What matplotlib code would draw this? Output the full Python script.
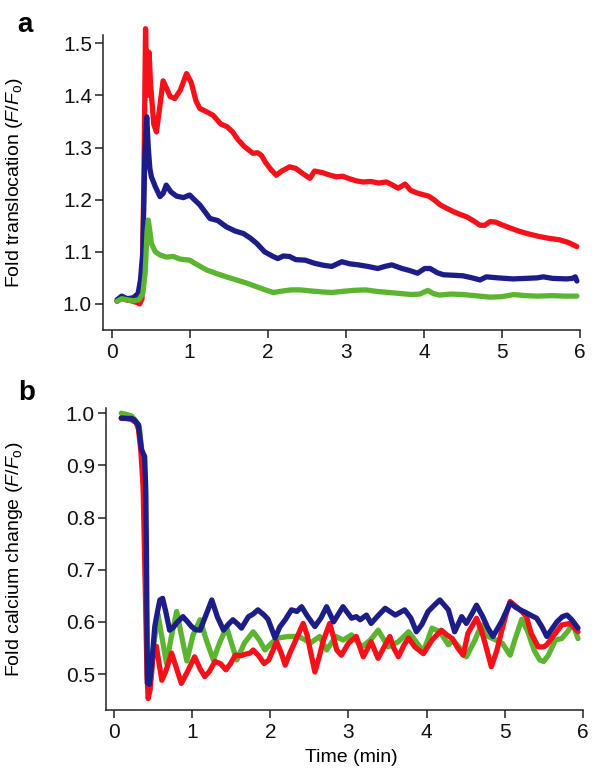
import matplotlib
matplotlib.use("Agg")
import matplotlib.pyplot as plt
import numpy as np

plt.rcParams['font.family'] = ['Liberation Sans', 'DejaVu Sans']
plt.rcParams['mathtext.fontset'] = 'custom'
plt.rcParams['mathtext.rm'] = 'Liberation Sans'
plt.rcParams['mathtext.it'] = 'Liberation Sans:italic'

RED = '#f5101a'
BLUE = '#1d1d88'
GREEN = '#5cb531'

# ---------------- Panel a: fold translocation ----------------
a_red_t = [0.07,0.12,0.18,0.25,0.32,0.36,0.39,0.415,0.435,0.455,0.48,0.50,0.54,0.575,0.61,0.66,0.70,0.75,0.81,0.88,0.96,1.02,1.08,1.13,1.20,1.30,1.40,1.48,1.55,1.62,1.70,1.76,1.81,1.87,1.92,1.97,2.04,2.11,2.18,2.28,2.36,2.45,2.54,2.60,2.70,2.80,2.88,2.96,3.05,3.14,3.22,3.32,3.42,3.52,3.60,3.67,3.76,3.83,3.91,3.98,4.06,4.13,4.21,4.30,4.38,4.46,4.55,4.63,4.72,4.78,4.85,4.92,4.98,5.10,5.23,5.35,5.49,5.60,5.74,5.85,5.96]
a_red_y = [1.005,1.012,1.008,1.006,1.003,1.0,1.01,1.25,1.528,1.40,1.483,1.42,1.345,1.33,1.37,1.428,1.415,1.398,1.394,1.41,1.442,1.425,1.39,1.375,1.37,1.362,1.345,1.34,1.33,1.315,1.302,1.295,1.289,1.29,1.285,1.272,1.258,1.247,1.255,1.263,1.26,1.25,1.241,1.255,1.252,1.247,1.244,1.245,1.24,1.236,1.234,1.235,1.232,1.234,1.228,1.222,1.23,1.218,1.213,1.21,1.207,1.2,1.19,1.183,1.177,1.172,1.167,1.16,1.151,1.151,1.158,1.157,1.153,1.146,1.139,1.134,1.129,1.126,1.123,1.118,1.11]

a_blue_t = [0.07,0.13,0.2,0.28,0.34,0.37,0.40,0.425,0.45,0.47,0.49,0.51,0.56,0.62,0.66,0.70,0.76,0.83,0.92,1.00,1.06,1.13,1.20,1.26,1.36,1.47,1.58,1.69,1.78,1.86,1.96,2.07,2.13,2.20,2.28,2.36,2.48,2.60,2.72,2.82,2.95,3.05,3.16,3.28,3.41,3.50,3.59,3.72,3.82,3.92,4.01,4.08,4.17,4.25,4.38,4.50,4.62,4.72,4.80,4.95,5.14,5.30,5.45,5.53,5.65,5.83,5.90,5.94,5.96]
a_blue_y = [1.008,1.015,1.01,1.012,1.02,1.046,1.10,1.28,1.359,1.30,1.26,1.244,1.225,1.206,1.212,1.228,1.215,1.207,1.204,1.209,1.20,1.19,1.176,1.164,1.160,1.148,1.14,1.135,1.126,1.116,1.10,1.091,1.087,1.092,1.091,1.085,1.084,1.078,1.074,1.072,1.081,1.077,1.075,1.072,1.068,1.072,1.075,1.068,1.064,1.059,1.068,1.068,1.060,1.056,1.055,1.054,1.05,1.046,1.052,1.05,1.048,1.049,1.05,1.052,1.049,1.048,1.049,1.052,1.044]

a_green_t = [0.07,0.13,0.2,0.28,0.35,0.40,0.43,0.455,0.47,0.49,0.51,0.56,0.62,0.70,0.79,0.88,1.00,1.10,1.22,1.35,1.47,1.60,1.73,1.84,1.95,2.07,2.20,2.30,2.41,2.55,2.70,2.82,2.95,3.10,3.25,3.40,3.55,3.70,3.84,3.95,4.05,4.12,4.20,4.35,4.50,4.65,4.85,5.00,5.15,5.30,5.45,5.65,5.80,5.96]
a_green_y = [1.005,1.01,1.008,1.006,1.008,1.02,1.06,1.14,1.161,1.14,1.116,1.10,1.094,1.09,1.091,1.086,1.084,1.075,1.065,1.058,1.052,1.046,1.04,1.034,1.028,1.022,1.025,1.027,1.027,1.025,1.023,1.022,1.024,1.026,1.027,1.024,1.022,1.02,1.018,1.019,1.026,1.02,1.017,1.019,1.018,1.016,1.013,1.014,1.018,1.016,1.015,1.016,1.015,1.015]

# ---------------- Panel b: fold calcium change ----------------
b_red_t = [0.09,0.15,0.22,0.28,0.31,0.34,0.37,0.40,0.42,0.435,0.46,0.50,0.54,0.575,0.61,0.66,0.735,0.80,0.86,0.94,1.03,1.10,1.16,1.22,1.29,1.36,1.43,1.49,1.55,1.62,1.68,1.74,1.78,1.85,1.92,1.98,2.08,2.14,2.19,2.25,2.31,2.37,2.42,2.47,2.51,2.57,2.62,2.68,2.76,2.81,2.85,2.91,3.00,3.10,3.15,3.19,3.29,3.38,3.45,3.53,3.58,3.64,3.71,3.77,3.85,3.96,4.07,4.19,4.26,4.33,4.40,4.47,4.53,4.64,4.70,4.75,4.83,4.90,4.96,5.02,5.07,5.15,5.22,5.28,5.34,5.43,5.50,5.54,5.65,5.73,5.84,5.94]
b_red_y = [0.99,0.99,0.988,0.982,0.97,0.93,0.86,0.65,0.50,0.453,0.47,0.54,0.553,0.52,0.488,0.505,0.54,0.51,0.482,0.505,0.533,0.51,0.495,0.505,0.524,0.52,0.508,0.52,0.536,0.535,0.538,0.54,0.546,0.535,0.52,0.527,0.562,0.54,0.517,0.54,0.56,0.58,0.597,0.575,0.546,0.504,0.53,0.565,0.597,0.57,0.546,0.536,0.559,0.572,0.55,0.533,0.562,0.53,0.55,0.572,0.55,0.533,0.555,0.569,0.552,0.539,0.565,0.584,0.575,0.568,0.55,0.536,0.578,0.607,0.585,0.559,0.514,0.545,0.581,0.615,0.639,0.629,0.62,0.61,0.578,0.552,0.552,0.556,0.578,0.594,0.597,0.581]

b_blue_t = [0.09,0.15,0.22,0.25,0.31,0.35,0.39,0.405,0.415,0.425,0.45,0.48,0.52,0.555,0.585,0.62,0.66,0.71,0.76,0.80,0.88,0.94,0.99,1.04,1.10,1.18,1.25,1.32,1.40,1.46,1.52,1.58,1.63,1.72,1.78,1.84,1.92,1.97,2.06,2.12,2.19,2.27,2.34,2.40,2.47,2.57,2.65,2.72,2.81,2.93,3.04,3.10,3.15,3.23,3.29,3.38,3.47,3.55,3.60,3.72,3.80,3.87,3.94,4.02,4.10,4.17,4.28,4.36,4.45,4.51,4.58,4.64,4.72,4.78,4.85,4.96,5.07,5.14,5.20,5.27,5.33,5.41,5.48,5.54,5.60,5.67,5.74,5.80,5.86,5.94]
b_blue_y = [0.991,0.99,0.99,0.988,0.978,0.93,0.917,0.85,0.70,0.483,0.48,0.52,0.591,0.62,0.642,0.645,0.62,0.584,0.59,0.598,0.61,0.60,0.591,0.585,0.584,0.615,0.642,0.61,0.584,0.595,0.604,0.596,0.588,0.61,0.615,0.623,0.613,0.605,0.569,0.59,0.604,0.623,0.62,0.629,0.612,0.591,0.608,0.629,0.60,0.629,0.607,0.61,0.604,0.613,0.597,0.612,0.626,0.618,0.613,0.623,0.607,0.581,0.595,0.62,0.632,0.642,0.623,0.581,0.61,0.597,0.615,0.632,0.61,0.59,0.572,0.60,0.636,0.628,0.623,0.618,0.613,0.607,0.59,0.572,0.585,0.60,0.61,0.613,0.604,0.588]

b_green_t = [0.09,0.15,0.22,0.28,0.32,0.36,0.40,0.42,0.44,0.47,0.51,0.56,0.60,0.67,0.73,0.80,0.86,0.93,1.01,1.10,1.18,1.27,1.35,1.44,1.50,1.57,1.67,1.78,1.86,1.93,2.02,2.10,2.23,2.36,2.45,2.51,2.63,2.72,2.84,2.93,3.04,3.17,3.28,3.38,3.51,3.64,3.77,3.85,3.96,4.07,4.17,4.28,4.34,4.45,4.51,4.62,4.70,4.79,4.89,4.97,5.07,5.13,5.22,5.30,5.38,5.45,5.50,5.56,5.65,5.73,5.82,5.87,5.94]
b_green_y = [1.0,0.998,0.995,0.985,0.975,0.92,0.75,0.55,0.49,0.49,0.56,0.615,0.58,0.52,0.57,0.62,0.575,0.525,0.575,0.604,0.565,0.527,0.56,0.59,0.56,0.527,0.56,0.581,0.565,0.546,0.56,0.569,0.572,0.572,0.565,0.559,0.572,0.546,0.572,0.565,0.575,0.552,0.565,0.584,0.552,0.562,0.581,0.565,0.543,0.588,0.581,0.556,0.565,0.546,0.533,0.565,0.594,0.572,0.565,0.559,0.536,0.565,0.605,0.58,0.545,0.527,0.524,0.536,0.565,0.568,0.584,0.597,0.568]

xticks = [0, 1, 2, 3, 4, 5, 6]
a_yticks = [1.0, 1.1, 1.2, 1.3, 1.4, 1.5]
b_yticks = [0.5, 0.6, 0.7, 0.8, 0.9, 1.0]

W, H = 600, 773
fig = plt.figure(figsize=(W / 100, H / 100), dpi=100)

def px_axes(left, right, top, bottom):
    return fig.add_axes([left / W, 1 - bottom / H, (right - left) / W, (bottom - top) / H])

LW = 3.8
TICKFS = 15
LABFS = 14

def style(ax):
    for s in ['top', 'right']:
        ax.spines[s].set_visible(False)
    for s in ['left', 'bottom']:
        ax.spines[s].set_linewidth(1.1)
        ax.spines[s].set_color('#222222')
    ax.tick_params(direction='out', length=6, width=1.1, color='#222222',
                   labelsize=TICKFS, labelcolor='#111111')
    ax.tick_params(axis='y', pad=2)
    ax.tick_params(axis='x', pad=3)

def draw(ax, t, y, c):
    ax.plot(t, y, color=c, lw=LW, solid_joinstyle='round',
            solid_capstyle='round', clip_on=False)

# Panel a
axa = px_axes(103, 580, 35, 330)
draw(axa, a_red_t, a_red_y, RED)
draw(axa, a_blue_t, a_blue_y, BLUE)
draw(axa, a_green_t, a_green_y, GREEN)
axa.set_xlim(-0.11, 6.0)
axa.set_ylim(0.95, 1.516)
axa.set_xticks(xticks)
axa.set_xticklabels([str(v) for v in xticks])
axa.set_yticks(a_yticks)
axa.set_yticklabels([f"{v:.1f}" for v in a_yticks])
style(axa)
axa.set_ylabel(r"Fold translocation ($F$/$F_{\mathrm{o}}$)", fontsize=LABFS)
axa.yaxis.set_label_coords(-(103 - 25) / (580 - 103), 0.5)

# Panel b
axb = px_axes(106, 582.7, 408, 710)
draw(axb, b_green_t, b_green_y, GREEN)
draw(axb, b_red_t, b_red_y, RED)
draw(axb, b_blue_t, b_blue_y, BLUE)
axb.set_xlim(-0.105, 6.0)
axb.set_ylim(0.431, 1.01)
axb.set_xticks(xticks)
axb.set_xticklabels([str(v) for v in xticks])
axb.set_yticks(b_yticks)
axb.set_yticklabels([f"{v:.1f}" for v in b_yticks])
style(axb)
axb.set_ylabel(r"Fold calcium change ($F$/$F_{\mathrm{o}}$)", fontsize=LABFS)
axb.yaxis.set_label_coords(-(106 - 25) / (582.7 - 106), 0.5)

fig.text(351.7 / W, 1 - 757 / H, "Time (min)", fontsize=LABFS, ha='center', va='center')
fig.text(17 / W, 1 - 25 / H, "a", fontsize=20, fontweight='bold', ha='left', va='center')
fig.text(18 / W, 1 - 393 / H, "b", fontsize=20, fontweight='bold', ha='left', va='center')

fig.savefig("out.png", dpi=100)
